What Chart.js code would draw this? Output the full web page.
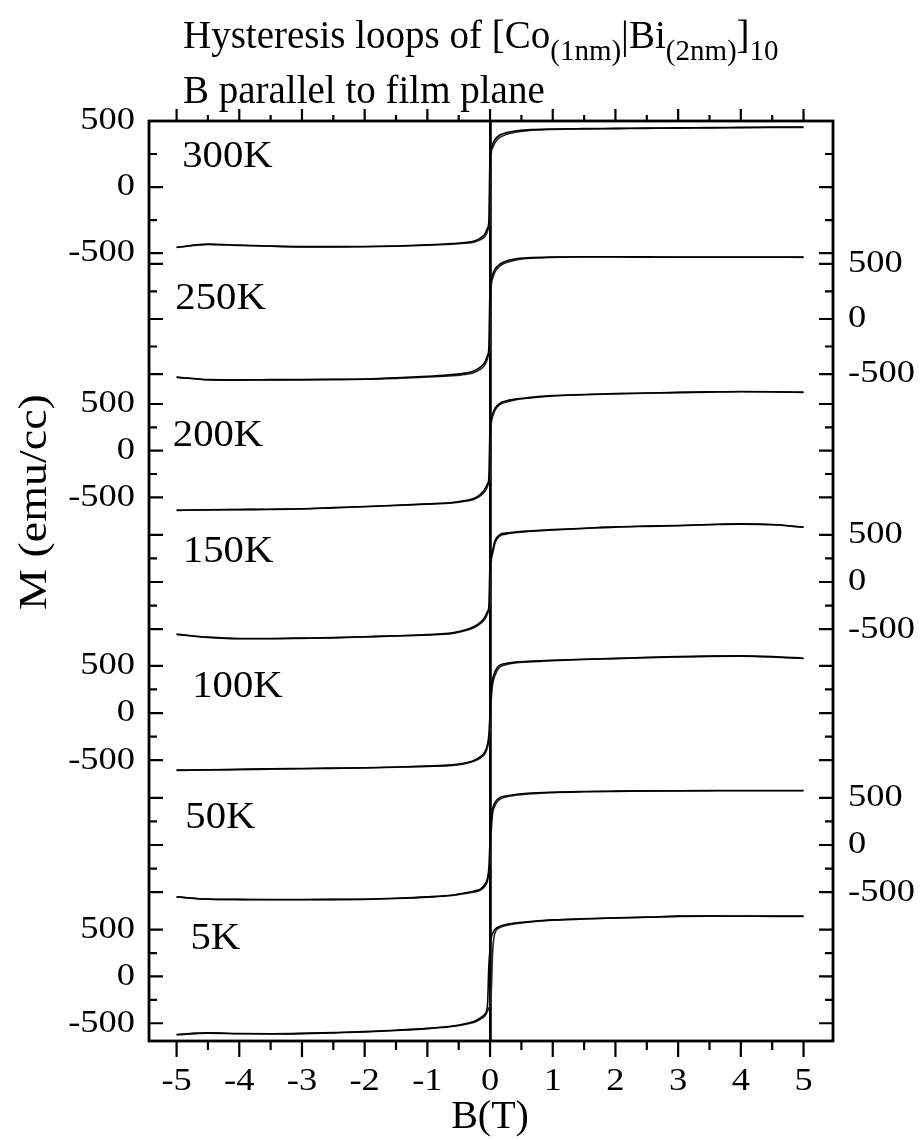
<!DOCTYPE html>
<html>
<head>
<meta charset="utf-8">
<script src="https://cdn.jsdelivr.net/npm/chart.js@4.4.0/dist/chart.umd.min.js"></script>
<style>
  html, body { margin: 0; padding: 0; background: #fff; }
</style>
</head>
<body>
<canvas id="grafico" width="922" height="1140"></canvas>
<script>
// applied field (T), shared by every loop; both branches are stored on this grid
const field = [5, 4.5, 4, 3.5, 3, 2.5, 2, 1.5, 1, 0.6, 0.4, 0.25, 0.15, 0.08, 0.04, 0.02, 0,
  -0.02, -0.04, -0.08, -0.15, -0.25, -0.4, -0.6, -1, -1.5, -2, -2.5, -3, -3.5, -4, -4.5, -5];

const temps = ["300K", "250K", "200K", "150K", "100K", "50K", "5K"];

// M (emu/cc), upper (field decreasing) and lower (field increasing) branches
const m300Down = [455, 454, 452, 450, 448, 446, 444, 442, 439, 433, 424, 410, 392, 360, 325, 290, 240, -265, -310, -355, -385, -408, -420, -428, -438, -446, -450, -451, -451, -447, -440, -432, -456];
const m300Up = [452, 451, 449, 447, 446, 444, 442, 440, 436, 427, 415, 397, 374, 338, 295, 255, -285, -300, -335, -372, -398, -416, -426, -432, -441, -448, -452, -453, -453, -449, -443, -435, -458];
const m250Down = [562, 563, 563, 563, 563, 564, 565, 565, 563, 556, 545, 525, 495, 455, 400, 340, 280, -270, -330, -390, -435, -470, -492, -505, -520, -535, -545, -548, -550, -551, -552, -550, -527];
const m250Up = [560, 561, 561, 561, 561, 562, 563, 563, 560, 550, 535, 510, 478, 430, 370, 300, -300, -310, -360, -415, -455, -485, -503, -515, -527, -540, -548, -551, -553, -554, -555, -553, -530];
const m200Down = [627, 632, 634, 630, 625, 618, 612, 602, 590, 568, 552, 532, 505, 455, 390, 320, 250, -300, -355, -410, -465, -510, -535, -555, -570, -585, -598, -610, -622, -627, -630, -633, -638];
const m200Up = [624, 629, 631, 627, 622, 615, 609, 599, 586, 562, 544, 520, 490, 435, 365, 290, -330, -335, -385, -435, -482, -520, -542, -560, -574, -588, -601, -613, -625, -630, -632, -635, -640];
const m150Down = [582, 610, 617, 610, 600, 593, 585, 570, 555, 540, 530, 518, 500, 440, 330, 260, 200, -270, -310, -370, -425, -470, -510, -540, -558, -570, -580, -590, -595, -599, -600, -585, -553];
const m150Up = [580, 607, 614, 607, 597, 590, 582, 567, 552, 535, 523, 508, 485, 415, 300, 220, -250, -300, -335, -390, -440, -482, -518, -545, -562, -573, -583, -593, -598, -602, -602, -588, -556];
const m100Down = [582, 598, 606, 604, 598, 590, 580, 571, 560, 548, 540, 525, 505, 440, 360, 250, 0, -240, -330, -410, -460, -500, -530, -550, -563, -573, -580, -584, -588, -592, -597, -602, -606];
const m100Up = [579, 595, 603, 601, 595, 587, 577, 568, 556, 542, 532, 512, 485, 400, 300, 150, -200, -300, -360, -430, -475, -510, -537, -555, -566, -576, -583, -587, -591, -595, -600, -604, -608];
const m50Down = [578, 578, 578, 577, 576, 574, 571, 567, 560, 548, 535, 520, 500, 450, 380, 250, 50, -250, -350, -415, -465, -488, -508, -530, -550, -565, -575, -577, -578, -578, -577, -574, -550];
const m50Up = [576, 576, 576, 575, 574, 572, 569, 564, 556, 542, 527, 508, 482, 420, 330, 150, -180, -300, -380, -435, -478, -498, -515, -535, -553, -568, -577, -579, -580, -580, -579, -576, -552];
const m5Down = [645, 645, 646, 647, 645, 635, 627, 617, 605, 585, 572, 555, 535, 505, 460, 420, 300, 100, -300, -400, -440, -480, -505, -530, -555, -575, -590, -600, -608, -612, -610, -603, -620];
const m5Up = [643, 643, 644, 645, 643, 633, 625, 614, 601, 580, 565, 545, 520, 470, 250, -150, -300, -340, -370, -420, -455, -490, -512, -535, -558, -578, -593, -603, -611, -615, -613, -606, -623];

const branchesDown = [m300Down, m250Down, m200Down, m150Down, m100Down, m50Down, m5Down];
const branchesUp = [m300Up, m250Up, m200Up, m150Up, m100Up, m50Up, m5Up];

// tick values
const xTickLabels = [-5, -4, -3, -2, -1, 0, 1, 2, 3, 4, 5];
const xTickMarks = [-5, -4.5, -4, -3.5, -3, -2.5, -2, -1.5, -1, -0.5, 0, 0.5, 1, 1.5, 2, 2.5, 3, 3.5, 4, 4.5, 5];
const yTickLabels = [-500, 0, 500];
const yTickMarks = [-500, -250, 0, 250, 500];

// each loop lives in its own stacked layer
const layerMin = [-545, -645, -700, -700, -700, -700, -690];
const layerMax = [500, 545, 650, 700, 690, 700, 700];
const layerWeight = [138, 131, 126, 132, 131, 132, 130];
const labelSide = ["left", "right", "left", "right", "left", "right", "left"];

// where the temperature tags sit, in (B, M) of each layer
const tagB = [-4.91, -5.02, -5.06, -4.9, -4.75, -4.86, -4.78];
const tagM = [227, 182, 150, 319, 277, 287, 396];

const SERIF = '"Liberation Serif", "Times New Roman", serif';

function drawText(ctx, str, x, y, size, align, stretch) {
    ctx.save();
    ctx.translate(x, y);
    ctx.scale(stretch, 1);
    ctx.font = size + "px " + SERIF;
    ctx.textAlign = align;
    ctx.textBaseline = "middle";
    ctx.fillText(str, 0, 0);
    ctx.restore();
}

function drawTitleLine(ctx, parts, x, baseline) {
    let cx = x;
    parts.forEach(p => {
        const size = p.sub ? 29 : 39;
        ctx.font = size + "px " + SERIF;
        ctx.textAlign = "left";
        ctx.textBaseline = "alphabetic";
        ctx.fillText(p.t, cx, baseline + (p.sub ? 12 : 0));
        cx += ctx.measureText(p.t).width;
    });
}

const decorPlugin = {
    id: "decor",
    afterDraw(chart) {
        const ctx = chart.ctx;
        const area = chart.chartArea;
        const xs = chart.scales.x;
        ctx.save();
        ctx.strokeStyle = "#000";
        ctx.fillStyle = "#000";

        // frame
        ctx.lineWidth = 2.8;
        ctx.strokeRect(area.left, area.top, area.right - area.left, area.bottom - area.top);

        // x ticks: bottom and top, outward
        ctx.lineWidth = 2.2;
        ctx.beginPath();
        xTickMarks.forEach(v => {
            const px = xs.getPixelForValue(v);
            const major = Number.isInteger(v);
            ctx.moveTo(px, area.bottom);
            ctx.lineTo(px, area.bottom + (major ? 16 : 9));
            ctx.moveTo(px, area.top);
            ctx.lineTo(px, area.top - (major ? 12 : 6));
        });
        ctx.stroke();

        // y ticks of every layer, inward on both sides
        temps.forEach((t, i) => {
            const ys = chart.scales["yL" + i];
            ctx.beginPath();
            yTickMarks.forEach(v => {
                const py = ys.getPixelForValue(v);
                const len = v % 500 === 0 ? 14 : 8;
                ctx.moveTo(area.left, py);
                ctx.lineTo(area.left + len, py);
                ctx.moveTo(area.right, py);
                ctx.lineTo(area.right - len, py);
            });
            ctx.stroke();

            yTickLabels.forEach(v => {
                const py = ys.getPixelForValue(v);
                if (labelSide[i] === "left") {
                    drawText(ctx, String(v), area.left - 14, py, 32, "right", 1.14);
                } else {
                    drawText(ctx, String(v), area.right + 15, py, 32, "left", 1.14);
                }
            });

            drawText(ctx, t, xs.getPixelForValue(tagB[i]), ys.getPixelForValue(tagM[i]), 37, "left", 1.1);
        });

        // x tick labels
        xTickLabels.forEach(v => {
            drawText(ctx, String(v), xs.getPixelForValue(v), area.bottom + 41, 32, "center", 1.14);
        });

        // axis titles
        drawText(ctx, "B(T)", xs.getPixelForValue(0), area.bottom + 76, 40, "center", 1.0);
        ctx.save();
        ctx.translate(35, (area.top + area.bottom) / 2 - 79);
        ctx.rotate(-Math.PI / 2);
        drawText(ctx, "M (emu/cc)", 0, 0, 40, "center", 1.15);
        ctx.restore();

        // title
        drawTitleLine(ctx, [
            {t: "Hysteresis loops of [Co"}, {t: "(1nm)", sub: true}, {t: "|Bi"},
            {t: "(2nm)", sub: true}, {t: "]"}, {t: "10", sub: true}
        ], 183, 48);
        drawTitleLine(ctx, [{t: "B parallel to film plane"}], 183, 103);

        ctx.restore();
    }
};

const scales = {
    x: {
        type: "linear",
        position: "bottom",
        min: -5.44,
        max: 5.47,
        afterBuildTicks: s => { s.ticks = xTickLabels.map(v => ({value: v})); },
        afterFit: s => { s.height = 99; },
        ticks: {display: false},
        border: {display: false},
        grid: {
            drawTicks: false,
            color: c => (c.tick && c.tick.value === 0) ? "#000" : "rgba(0,0,0,0)",
            lineWidth: 2.8
        }
    },
    xTop: {
        type: "linear",
        position: "top",
        min: -5.44,
        max: 5.47,
        afterFit: s => { s.height = 121; },
        ticks: {display: false},
        border: {display: false},
        grid: {display: false}
    }
};

temps.forEach((t, i) => {
    const common = {
        type: "linear",
        min: layerMin[i],
        max: layerMax[i],
        stackWeight: layerWeight[i],
        ticks: {display: false},
        border: {display: false},
        grid: {display: false}
    };
    scales["yL" + i] = Object.assign({}, common, {
        position: "left", stack: "L", weight: 10 - i,
        afterFit: s => { s.width = 149; }
    });
    scales["yR" + i] = Object.assign({}, common, {
        position: "right", stack: "R", weight: i + 1,
        afterFit: s => { s.width = 89; }
    });
});

const datasets = [];
temps.forEach((t, i) => {
    [branchesDown[i], branchesUp[i]].forEach((arr, k) => {
        datasets.push({
            label: t + (k === 0 ? " down" : " up"),
            data: field.map((b, j) => ({x: b, y: arr[j]})),
            yAxisID: "yL" + i,
            borderColor: k === 0 ? "#000" : "#222",
            borderWidth: 1.6,
            pointRadius: 0,
            fill: false,
            clip: false,
            cubicInterpolationMode: "monotone"
        });
    });
});

new Chart(document.getElementById("grafico"), {
    type: "line",
    data: {datasets: datasets},
    options: {
        responsive: false,
        animation: false,
        devicePixelRatio: 1,
        layout: {padding: 0},
        plugins: {legend: {display: false}, tooltip: {enabled: false}},
        scales: scales
    },
    plugins: [decorPlugin]
});
</script>
</body>
</html>
